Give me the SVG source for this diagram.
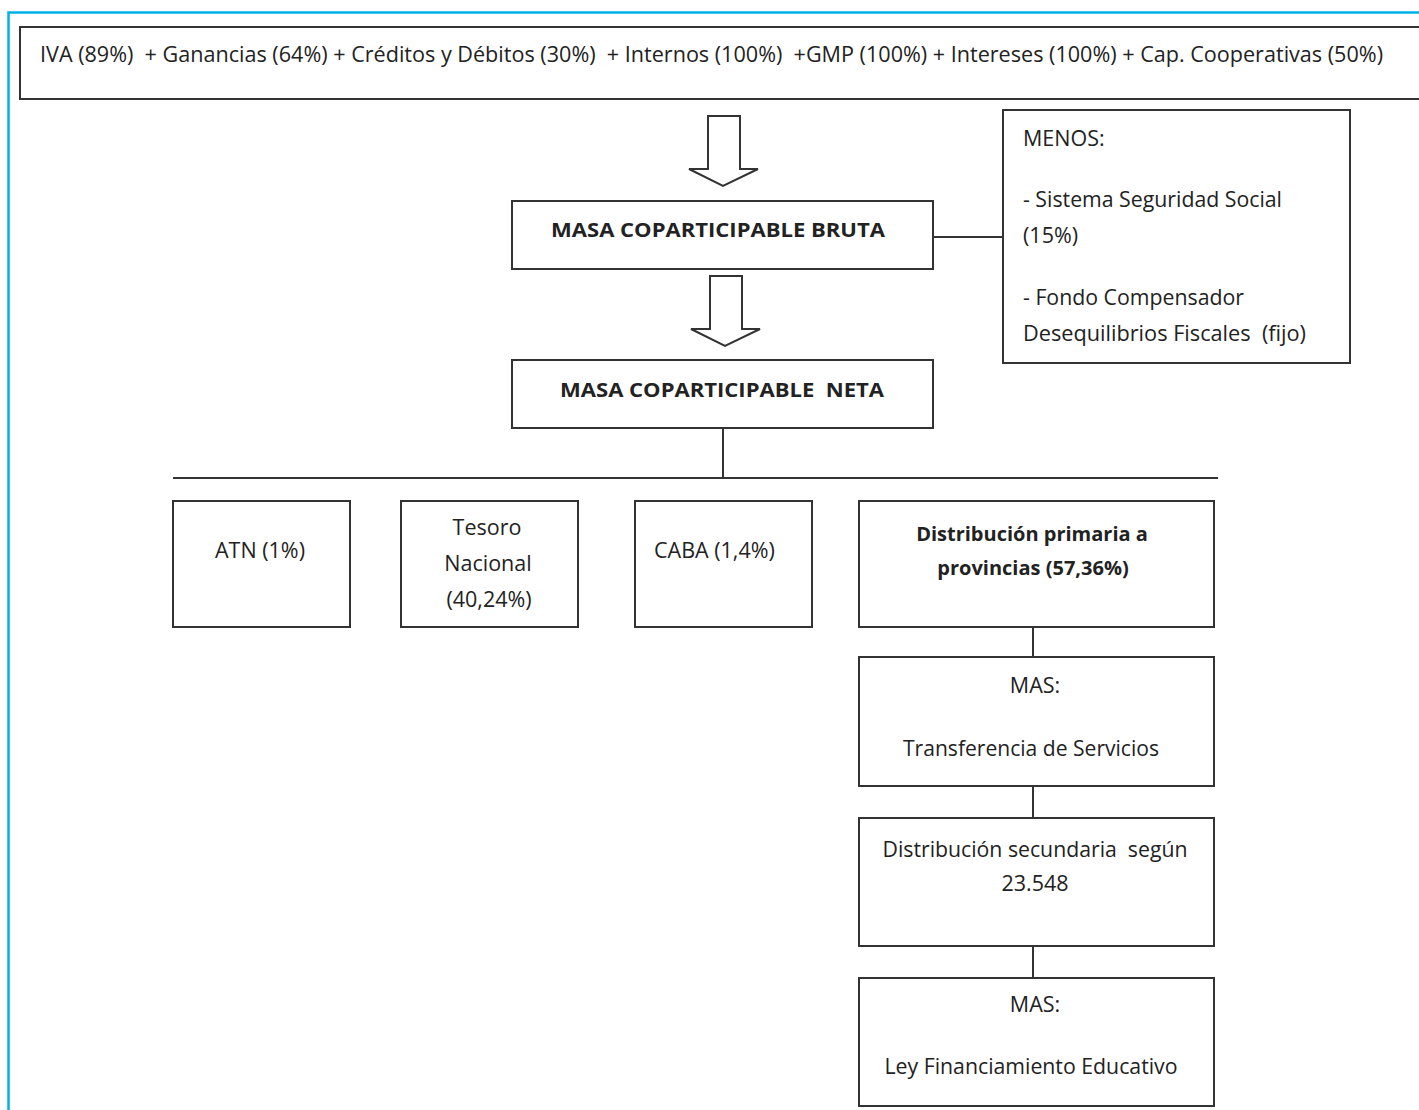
<svg xmlns="http://www.w3.org/2000/svg" width="1419" height="1110" viewBox="0 0 1419 1110">
<style>
.b{fill:#fff;stroke:#333;stroke-width:2}
.c{fill:none;stroke:#333;stroke-width:2}
text{font-family:"Open Sans","Noto Sans","Liberation Sans",sans-serif;font-size:21.5px;fill:#222;white-space:pre}
.m{text-anchor:middle}
.bd{font-weight:bold;font-size:20px}
</style>
<rect width="1419" height="1110" fill="#fff"/>
<path d="M8.5,1110 V12.5 H1419" fill="none" stroke="#00b0e8" stroke-width="2.5"/>
<g id="sources">
<rect class="b" x="20" y="27" width="1410" height="72"/>
<text x="40" y="62" textLength="1343" lengthAdjust="spacingAndGlyphs">IVA (89%)  + Ganancias (64%) + Créditos y Débitos (30%)  + Internos (100%)  +GMP (100%) + Intereses (100%) + Cap. Cooperativas (50%)</text>
</g>
<g id="arrow1"><path class="b" d="M708,116 H740 V169 H758 L723,186 L689,169 H708 Z"/></g>
<g id="bruta">
<rect class="b" x="512" y="201" width="421" height="68"/>
<text class="m bd" x="718" y="237" textLength="334" lengthAdjust="spacingAndGlyphs">MASA COPARTICIPABLE BRUTA</text>
</g>
<g id="arrow2"><path class="b" d="M710,276 H742 V329 H760 L725,346 L691,329 H710 Z"/></g>
<g id="menos">
<rect class="b" x="1003" y="110" width="347" height="253"/>
<text x="1023" y="146">MENOS:</text>
<text x="1023" y="207" textLength="259" lengthAdjust="spacingAndGlyphs">- Sistema Seguridad Social</text>
<text x="1023" y="243">(15%)</text>
<text x="1023" y="305" textLength="221" lengthAdjust="spacingAndGlyphs">- Fondo Compensador</text>
<text x="1023" y="341" textLength="283" lengthAdjust="spacingAndGlyphs">Desequilibrios Fiscales  (fijo)</text>
</g>
<g id="neta">
<rect class="b" x="512" y="360" width="421" height="68"/>
<text class="m bd" x="722" y="397" textLength="324" lengthAdjust="spacingAndGlyphs">MASA COPARTICIPABLE  NETA</text>
</g>
<g id="atn">
<rect class="b" x="173" y="501" width="177" height="126"/>
<text class="m" x="260" y="558">ATN (1%)</text>
</g>
<g id="tesoro">
<rect class="b" x="401" y="501" width="177" height="126"/>
<text class="m" x="487" y="535">Tesoro</text>
<text class="m" x="488" y="571">Nacional</text>
<text class="m" x="489" y="607">(40,24%)</text>
</g>
<g id="caba">
<rect class="b" x="635" y="501" width="177" height="126"/>
<text x="654" y="558">CABA (1,4%)</text>
</g>
<g id="primaria">
<rect class="b" x="859" y="501" width="355" height="126"/>
<text class="m bd" x="1032" y="541">Distribución primaria a</text>
<text class="m bd" x="1033" y="575">provincias (57,36%)</text>
</g>
<g id="servicios">
<rect class="b" x="859" y="657" width="355" height="129"/>
<text class="m" x="1035" y="693">MAS:</text>
<text class="m" x="1031" y="756" textLength="256" lengthAdjust="spacingAndGlyphs">Transferencia de Servicios</text>
</g>
<g id="secundaria">
<rect class="b" x="859" y="818" width="355" height="128"/>
<text class="m" x="1035" y="857" textLength="305" lengthAdjust="spacingAndGlyphs">Distribución secundaria  según</text>
<text class="m" x="1035" y="891">23.548</text>
</g>
<g id="educativo">
<rect class="b" x="859" y="978" width="355" height="128"/>
<text class="m" x="1035" y="1012">MAS:</text>
<text class="m" x="1031" y="1074" textLength="293" lengthAdjust="spacingAndGlyphs">Ley Financiamiento Educativo</text>
</g>
<g id="connectors">
<path class="c" d="M933,237 H1003"/>
<path class="c" d="M723,428 V478"/>
<path class="c" d="M173,478 H1218"/>
<path class="c" d="M1033,627 V657"/>
<path class="c" d="M1033,786 V818"/>
<path class="c" d="M1033,946 V978"/>
</g>
</svg>
